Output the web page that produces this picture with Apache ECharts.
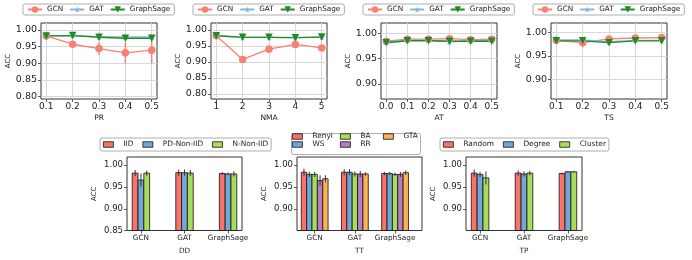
<!DOCTYPE html>
<html><head><meta charset="utf-8">
<script src="https://cdn.jsdelivr.net/npm/echarts@6/dist/echarts.min.js"></script>
<style>html,body{margin:0;padding:0;background:#fff}#c{width:692px;height:260px}</style>
</head><body><div id="c"></div>
<script>
// ---------------- data ----------------
const methods = ['GCN', 'GAT', 'GraphSage'];
const models = ['GCN', 'GAT', 'GraphSage'];

// PR panel
const prX = [0.1, 0.2, 0.3, 0.4, 0.5];
const prGCN = [0.982, 0.957, 0.944, 0.931, 0.939];
const prGCNErr = [0.003, 0.008, 0.019, 0.032, 0.04];
const prGAT = [0.983, 0.983, 0.980, 0.979, 0.979];
const prGATErr = [0.002, 0.002, 0.003, 0.004, 0.004];
const prSage = [0.982, 0.983, 0.978, 0.975, 0.975];
const prSageErr = [0.002, 0.002, 0.003, 0.004, 0.004];

// NMA panel
const nmaX = [1, 2, 3, 4, 5];
const nmaGCN = [0.982, 0.908, 0.940, 0.955, 0.944];
const nmaGCNErr = [0.003, 0.006, 0.013, 0.008, 0.01];
const nmaGAT = [0.983, 0.977, 0.977, 0.976, 0.978];
const nmaGATErr = [0.002, 0.002, 0.002, 0.002, 0.002];
const nmaSage = [0.982, 0.977, 0.977, 0.976, 0.978];
const nmaSageErr = [0.002, 0.002, 0.002, 0.002, 0.002];

// AT panel
const atX = [0.0, 0.1, 0.2, 0.3, 0.4, 0.5];
const atGCN = [0.984, 0.988, 0.988, 0.989, 0.987, 0.988];
const atGCNErr = [0.002, 0.002, 0.002, 0.002, 0.002, 0.002];
const atGAT = [0.983, 0.986, 0.986, 0.983, 0.985, 0.986];
const atGATErr = [0.002, 0.002, 0.002, 0.003, 0.002, 0.002];
const atSage = [0.981, 0.985, 0.985, 0.984, 0.984, 0.984];
const atSageErr = [0.002, 0.002, 0.002, 0.002, 0.002, 0.002];

// TS panel
const tsX = [0.1, 0.2, 0.3, 0.4, 0.5];
const tsGCN = [0.983, 0.978, 0.986, 0.988, 0.989];
const tsGCNErr = [0.002, 0.01, 0.003, 0.002, 0.002];
const tsGAT = [0.984, 0.984, 0.980, 0.983, 0.983];
const tsGATErr = [0.002, 0.002, 0.002, 0.002, 0.002];
const tsSage = [0.982, 0.982, 0.978, 0.982, 0.982];
const tsSageErr = [0.002, 0.002, 0.002, 0.002, 0.002];

// DD panel (per series, values for GCN, GAT, GraphSage)
const ddNames = ['IID', 'PD-Non-IID', 'N-Non-IID'];
const ddValues = [[0.982, 0.983, 0.981], [0.966, 0.983, 0.980], [0.982, 0.982, 0.980]];
const ddErrors = [[0.007, 0.007, 0.003], [0.015, 0.007, 0.003], [0.006, 0.007, 0.006]];

// TT panel
const ttNames = ['Renyi', 'WS', 'BA', 'RR', 'GTA'];
const ttValues = [[0.984, 0.984, 0.981], [0.979, 0.984, 0.981], [0.979, 0.980, 0.979], [0.965, 0.980, 0.979], [0.969, 0.980, 0.983]];
const ttErrors = [[0.008, 0.007, 0.004], [0.006, 0.007, 0.004], [0.006, 0.006, 0.004], [0.012, 0.007, 0.006], [0.008, 0.004, 0.005]];

// TP panel
const tpNames = ['Random', 'Degree', 'Cluster'];
const tpValues = [[0.982, 0.982, 0.981], [0.979, 0.980, 0.985], [0.971, 0.982, 0.985]];
const tpErrors = [[0.008, 0.006, 0.002], [0.006, 0.006, 0.002], [0.015, 0.005, 0.002]];

// tick labels
const prTicks = [0.1, 0.2, 0.3, 0.4, 0.5];
const nmaTicks = [1, 2, 3, 4, 5];
const atTicks = [0.0, 0.1, 0.2, 0.3, 0.4, 0.5];
const tsTicks = [0.1, 0.2, 0.3, 0.4, 0.5];
const accTicksWide = [0.80, 0.85, 0.90, 0.95, 1.00];
const accTicksNarrow = [0.90, 0.95, 1.00];
const accTicksBarDD = [0.85, 0.90, 0.95, 1.00];
const barTicks = [0, 1, 2];

// ---------------- style ----------------
const FONT = 'DejaVu Sans';
const TXT = '#222';
const lineColors = { GCN: '#fa8072', GAT: '#84b6e2', GraphSage: '#1f8b24' };
const lineSymbols = {
  GCN: 'circle',
  GAT: 'path://M50,0 L61,35 L98,35 L68,57 L79,91 L50,70 L21,91 L32,57 L2,35 L39,35 Z',
  GraphSage: 'path://M0,0 L100,0 L50,90 Z'
};
const lineSymbolSize = { GCN: 7.5, GAT: 7, GraphSage: 7.5 };
const barColors5 = ['#f8736a', '#72a8d6', '#a9dc5c', '#bb7cc6', '#fbb256'];

const grids = [], xAxes = [], yAxes = [], series = [], legends = [], graphics = [];

function errRender(color, lw) {
  return function (params, api) {
    const x = api.value(0), y = api.value(1), e = api.value(2);
    const p1 = api.coord([x, y - e]), p2 = api.coord([x, y + e]);
    return { type: 'line', shape: { x1: p1[0], y1: p1[1], x2: p2[0], y2: p2[1] },
      style: { stroke: color, lineWidth: lw } };
  };
}

function barRender(k, n, w, color, base) {
  return function (params, api) {
    const g = api.value(0), v = api.value(1), e = api.value(2);
    const cx = g + (k - (n - 1) / 2) * w;
    const tl = api.coord([cx - w / 2, v]);
    const br = api.coord([cx + w / 2, base]);
    const e1 = api.coord([cx, v - e]), e2 = api.coord([cx, v + e]);
    return { type: 'group', children: [
      { type: 'rect', shape: { x: tl[0], y: tl[1], width: br[0] - tl[0], height: br[1] - tl[1] },
        style: { fill: color, stroke: '#111', lineWidth: 0.8 } },
      { type: 'line', shape: { x1: e1[0], y1: e1[1], x2: e2[0], y2: e2[1] },
        style: { stroke: '#333', lineWidth: 1 } }
    ] };
  };
}

function axisCommon(ticks, fmt, fontSize, margin) {
  return {
    axisLine: { show: false, onZero: false },
    axisTick: { show: true, length: 3, customValues: ticks, lineStyle: { color: '#333', width: 0.8 } },
    axisLabel: { customValues: ticks, formatter: fmt, fontSize: fontSize, color: TXT, fontFamily: FONT, margin: margin }
  };
}

function addLinePanel(p) {
  const i = grids.length;
  grids.push({ left: p.left, top: 23, width: 116, height: 76, show: true, borderColor: '#333', borderWidth: 1 });
  xAxes.push(Object.assign({ gridIndex: i, type: 'value', min: p.xMin, max: p.xMax,
    name: p.xName, nameLocation: 'middle', nameGap: 15,
    nameTextStyle: { fontSize: 7.5, color: TXT, fontFamily: FONT },
    splitLine: { show: true, lineStyle: { color: '#d8d8d8', width: 1 } } },
    axisCommon(p.xTicks, p.xFmt, 9, 3)));
  yAxes.push(Object.assign({ gridIndex: i, type: 'value', min: p.yMin, max: p.yMax,
    name: 'ACC', nameLocation: 'middle', nameGap: 29,
    nameTextStyle: { fontSize: 7, color: TXT, fontFamily: FONT },
    splitLine: { show: true, lineStyle: { color: '#d8d8d8', width: 1 } } },
    axisCommon(p.yTicks, v => v.toFixed(2), 9.5, 4)));
  methods.forEach((m, k) => {
    const vals = p.vals[k], errs = p.errs[k];
    series.push({ type: 'custom', name: m + ' err', xAxisIndex: i, yAxisIndex: i, silent: true,
      renderItem: errRender(lineColors[m], 1.4), encode: { x: 0, y: 1 },
      data: p.x.map((x, j) => [x, vals[j], errs[j]]), z: 2 });
    series.push({ type: 'line', name: m, xAxisIndex: i, yAxisIndex: i, silent: true,
      symbol: lineSymbols[m], symbolSize: lineSymbolSize[m],
      lineStyle: { color: lineColors[m], width: 1.3 },
      itemStyle: { color: lineColors[m], borderWidth: 0 },
      data: p.x.map((x, j) => [x, vals[j]]), z: 2 });
  });
  legends.push({ left: p.legendLeft, top: 4, data: methods.slice(), orient: 'horizontal',
    padding: [2, 4], itemGap: 6, itemWidth: 14, itemHeight: 8,
    borderColor: '#999', borderWidth: 0.8, borderRadius: 2,
    textStyle: { fontSize: 7.3, color: TXT, fontFamily: FONT } });
}

function addBarPanel(p) {
  const i = grids.length;
  const base = 0.85;
  grids.push({ left: p.left, top: 157, width: p.width, height: 73.5, show: true, borderColor: '#333', borderWidth: 1 });
  xAxes.push(Object.assign({ gridIndex: i, type: 'value', min: p.xMin, max: p.xMax,
    name: p.xName, nameLocation: 'middle', nameGap: 17,
    nameTextStyle: { fontSize: 7.3, color: TXT, fontFamily: FONT },
    splitLine: { show: false } },
    axisCommon(barTicks, v => models[Math.round(v)], 7.3, 4)));
  yAxes.push(Object.assign({ gridIndex: i, type: 'value', min: 0.85, max: 1.019,
    name: 'ACC', nameLocation: 'middle', nameGap: 29,
    nameTextStyle: { fontSize: 7, color: TXT, fontFamily: FONT },
    splitLine: { show: false } },
    axisCommon(p.yTicks, v => v.toFixed(2), 8.5, 4)));
  const n = p.names.length;
  p.names.forEach((nm, k) => {
    series.push({ type: 'custom', name: nm, xAxisIndex: i, yAxisIndex: i, silent: true,
      renderItem: barRender(k, n, p.w, barColors5[k], base), encode: { x: 0, y: 1 },
      data: models.map((mm, g) => [g, p.values[k][g], p.errors[k][g]]) });
  });
}

function barLegendItem(nm, k) {
  return { name: nm, icon: 'rect', itemStyle: { color: barColors5[k], borderColor: '#111', borderWidth: 0.8 } };
}
const barLegendBase = { orient: 'horizontal', padding: [3, 3], itemGap: 9, itemWidth: 10, itemHeight: 5.5,
  textStyle: { fontSize: 7.4, color: TXT, fontFamily: FONT, padding: [0, 0, 0, 5] } };

// ---------------- panels ----------------
addLinePanel({ left: 41, xMin: 0.08, xMax: 0.52, xTicks: prTicks, xFmt: v => v.toFixed(1), xName: 'PR',
  yMin: 0.792, yMax: 1.021, yTicks: accTicksWide, x: prX,
  vals: [prGCN, prGAT, prSage], errs: [prGCNErr, prGATErr, prSageErr], legendLeft: 23 });
addLinePanel({ left: 211, xMin: 0.8, xMax: 5.2, xTicks: nmaTicks, xFmt: v => String(Math.round(v)), xName: 'NMA',
  yMin: 0.784, yMax: 1.022, yTicks: accTicksWide, x: nmaX,
  vals: [nmaGCN, nmaGAT, nmaSage], errs: [nmaGCNErr, nmaGATErr, nmaSageErr], legendLeft: 193 });
addLinePanel({ left: 381, xMin: -0.025, xMax: 0.525, xTicks: atTicks, xFmt: v => v.toFixed(1), xName: 'AT',
  yMin: 0.870, yMax: 1.020, yTicks: accTicksNarrow, x: atX,
  vals: [atGCN, atGAT, atSage], errs: [atGCNErr, atGATErr, atSageErr], legendLeft: 363 });
addLinePanel({ left: 551, xMin: 0.08, xMax: 0.52, xTicks: tsTicks, xFmt: v => v.toFixed(1), xName: 'TS',
  yMin: 0.858, yMax: 1.020, yTicks: accTicksNarrow, x: tsX,
  vals: [tsGCN, tsGAT, tsSage], errs: [tsGCNErr, tsGATErr, tsSageErr], legendLeft: 533 });

addBarPanel({ left: 127, width: 115, xMin: -0.32, xMax: 2.32, xName: 'DD', yTicks: accTicksBarDD,
  names: ddNames, values: ddValues, errors: ddErrors, w: 0.4 / 3 });
addBarPanel({ left: 297, width: 125, xMin: -0.44, xMax: 2.67, xName: 'TT', yTicks: accTicksNarrow,
  names: ttNames, values: ttValues, errors: ttErrors, w: 0.4 / 3 });
addBarPanel({ left: 466, width: 116, xMin: -0.32, xMax: 2.32, xName: 'TP', yTicks: accTicksNarrow,
  names: tpNames, values: tpValues, errors: tpErrors, w: 0.4 / 3 });

// bar legends
legends.push(Object.assign({}, barLegendBase, { left: 100, top: 138, borderColor: '#999', borderWidth: 0.8, borderRadius: 2,
  data: ddNames.map(barLegendItem) }));
legends.push(Object.assign({}, barLegendBase, { left: 440, top: 138, borderColor: '#999', borderWidth: 0.8, borderRadius: 2,
  data: tpNames.map(barLegendItem) }));
// TT legend: three columns inside one frame
legends.push(Object.assign({}, barLegendBase, { orient: 'vertical', left: 290, top: 132, itemGap: 1, padding: [1, 2],
  data: [barLegendItem(ttNames[0], 0), barLegendItem(ttNames[1], 1)] }));
legends.push(Object.assign({}, barLegendBase, { orient: 'vertical', left: 338, top: 132, itemGap: 1, padding: [1, 2],
  data: [barLegendItem(ttNames[2], 2), barLegendItem(ttNames[3], 3)] }));
legends.push(Object.assign({}, barLegendBase, { orient: 'vertical', left: 381, top: 132, itemGap: 1, padding: [1, 2],
  data: [barLegendItem(ttNames[4], 4)] }));
graphics.push({ type: 'rect', left: 289, top: 131, shape: { width: 129, height: 21, r: 2 },
  style: { fill: 'none', stroke: '#999', lineWidth: 0.8 }, silent: true });

const chart = echarts.init(document.getElementById('c'), null, { renderer: 'canvas', width: 692, height: 260 });
chart.setOption({
  animation: false,
  backgroundColor: '#fff',
  textStyle: { fontFamily: FONT },
  grid: grids, xAxis: xAxes, yAxis: yAxes, series: series, legend: legends, graphic: graphics
});
</script>
</body></html>
